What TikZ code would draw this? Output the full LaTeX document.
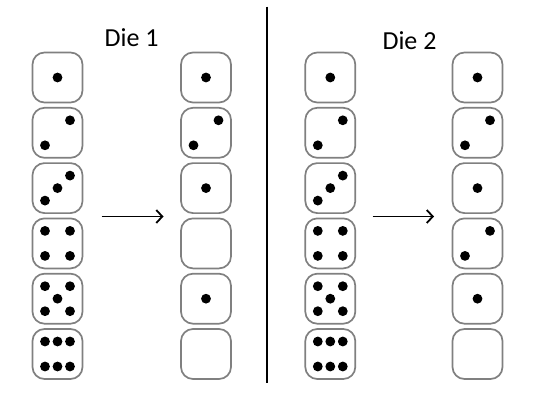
\documentclass[tikz,border=0pt]{standalone}
\usepackage{fontspec}
\setmainfont{Carlito}
\usetikzlibrary{arrows.meta,positioning}
\tikzset
{
    die/.style = {rectangle, rounded corners=12pt, draw=black!50, line width=1.7pt, minimum size=50pt, inner sep=0pt},
    pip/.style = {fill=black},
    title/.style = {font=\fontsize{26}{30}\selectfont, inner sep=0pt},
    move/.style = {line width=1.8pt, -{Straight Barb[length=6pt,width=13pt]}}
}
\newcommand{\pipat}[3]{\fill[pip] (#1) ++(#2,#3) circle (4.9pt);}
\newcommand{\face}[2]{%
\ifcase#2\relax
\or \pipat{#1}{0}{0}
\or \pipat{#1}{12.5}{-12.5}\pipat{#1}{-12.5}{12.5}
\or \pipat{#1}{12.5}{-12.5}\pipat{#1}{0}{0}\pipat{#1}{-12.5}{12.5}
\or \pipat{#1}{12.5}{-12.5}\pipat{#1}{-12.5}{12.5}\pipat{#1}{-12.5}{-12.5}\pipat{#1}{12.5}{12.5}
\or \pipat{#1}{12.5}{-12.5}\pipat{#1}{-12.5}{12.5}\pipat{#1}{-12.5}{-12.5}\pipat{#1}{12.5}{12.5}\pipat{#1}{0}{0}
\or \pipat{#1}{-12.5}{-12.5}\pipat{#1}{0}{-12.5}\pipat{#1}{12.5}{-12.5}\pipat{#1}{-12.5}{12.5}\pipat{#1}{0}{12.5}\pipat{#1}{12.5}{12.5}
\fi}

\begin{document}
\begin{tikzpicture}[x=1pt, y=-1pt]
\useasboundingbox (0,0) rectangle (538,401);
% titles
\node[title] (title1) at (131.7,37.5) {Die 1};
\node[title] (title2) at (409.5,40.5) {Die 2};
% die 1
\foreach \r/\f in {1/1,2/2,3/3,4/4,5/5,6/6}
{
    \node[die] (d1in\r) at (57.5,{77.5+55.3*(\r-1)}) {};
    \face{d1in\r}{\f}
}
\foreach \r/\f in {1/1,2/2,3/1,4/0,5/1,6/0}
{
    \node[die] (d1out\r) at (206,{77.5+55.3*(\r-1)}) {};
    \face{d1out\r}{\f}
}
% die 2
\foreach \r/\f in {1/1,2/2,3/3,4/4,5/5,6/6}
{
    \node[die] (d2in\r) at (330.3,{77.5+55.3*(\r-1)}) {};
    \face{d2in\r}{\f}
}
\foreach \r/\f in {1/1,2/2,3/1,4/2,5/1,6/0}
{
    \node[die] (d2out\r) at (477.5,{77.5+55.3*(\r-1)}) {};
    \face{d2out\r}{\f}
}
% arrows
\coordinate (from1) at (101.7,216.5);
\coordinate (to1) at (163.5,216.5);
\coordinate (from2) at (372.7,216.5);
\coordinate (to2) at (434,216.5);
\draw[move] (from1) -- (to1);
\draw[move] (from2) -- (to2);
% divider
\coordinate (top) at (266.7,6.7);
\coordinate (bottom) at (266.7,383.3);
\draw[line width=1.6pt] (top) -- (bottom);
\end{tikzpicture}
\end{document}
